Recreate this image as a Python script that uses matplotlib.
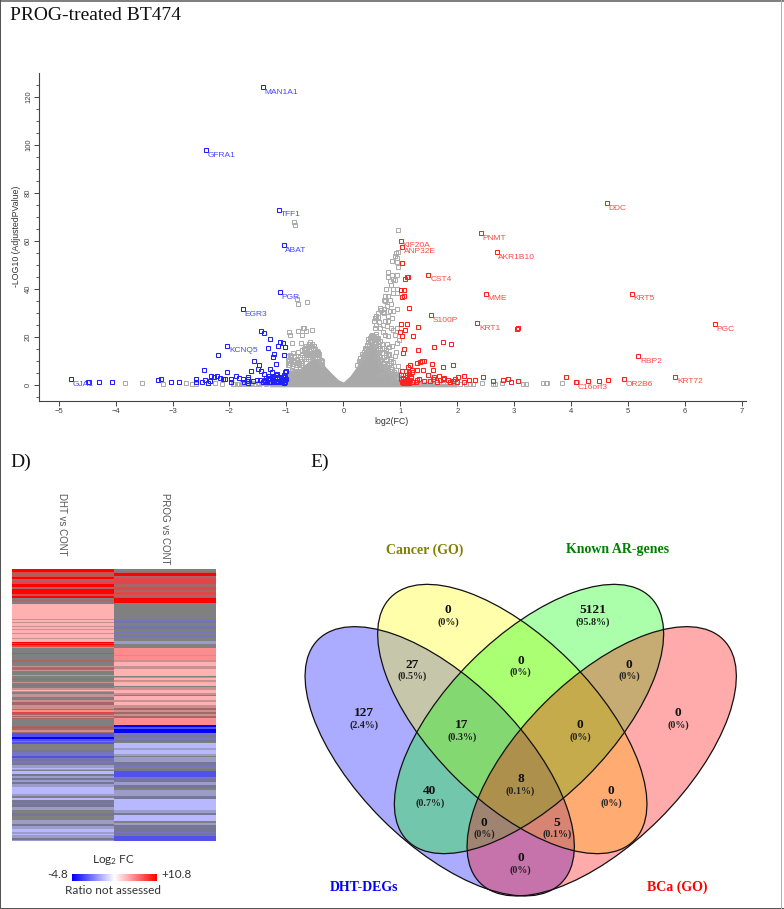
import numpy as np
import matplotlib
matplotlib.use("Agg")
import matplotlib.pyplot as plt
from matplotlib.patches import Ellipse, Rectangle
from matplotlib.colors import ListedColormap, LinearSegmentedColormap

plt.rcParams['mathtext.default'] = 'regular'

# ---- volcano data (log2FC, -log10 p)
blue_named = ["MAN1A1", "GFRA1", "TFF1", "ABAT", "PGR", "EGR3", "KCNQ5", "GJA1"]
blue_named_x = [-1.416, -2.41, -1.13, -1.05, -1.12, -1.76, -2.04, -4.78]
blue_named_y = [124.2, 97.9, 73.1, 58.4, 38.7, 31.6, 16.5, 2.5]

red_named = ["DDC", "PNMT", "AKR1B10", "KIF20A", "ANP32E", "CST4", "MME", "KRT5", "S100P",
             "KRT1", "PGC", "RBP2", "KRT72", "OR2B6", "C16orf3"]
red_named_x = [4.626, 2.42, 2.69, 1.008, 1.031, 1.494, 2.50, 5.07, 1.535, 2.35, 6.52, 5.18, 5.83, 4.92, 4.09]
red_named_y = [75.9, 63.3, 55.5, 60.2, 57.7, 46.0, 38.1, 38.1, 29.3, 25.9, 25.5, 12.0, 3.6, 2.6, 1.35]

blue_x = [-1.45, -1.40, -1.29, -1.12, -1.06, -1.15, -1.02, -1.32, -1.21, -1.05, -1.23, -2.21, -1.57, -1.49,
          -1.19, -2.45, -1.50, -1.45, -1.29, -1.26, -1.63, -2.04, -1.01, -1.02, -1.40, -1.17, -1.05, -1.89,
          -2.33, -2.22, -1.67, -2.28, -2.17, -2.12, -2.08, -1.98, -1.83, -1.77, -1.67, -1.58, -1.52, -1.46,
          -1.37, -1.29, -1.23, -1.17, -1.08, -1.02, -4.47, -4.48, -4.29, -4.07, -3.26, -3.21, -3.03, -2.89,
          -2.59, -2.59, -2.48, -2.43, -2.37, -2.34, -1.98, -1.74, -1.67, -1.70, -1.42, -1.38, -1.35, -1.33,
          -1.31, -1.28, -1.26, -1.24, -1.22, -1.20, -1.18, -1.16, -1.14, -1.12, -1.10, -1.08, -1.06, -1.04,
          -1.02, -1.01, -1.36, -1.30, -1.25, -1.19, -1.13, -1.07, -1.03, -1.15, -1.10, -1.05]
blue_y = [22.6, 21.8, 19.4, 18.0, 17.4, 16.5, 16.0, 15.6, 13.0, 12.6, 11.7, 12.6, 9.9, 8.5,
          8.9, 6.3, 6.7, 5.8, 6.7, 5.6, 5.7, 5.3, 5.8, 5.6, 4.7, 4.7, 4.4, 4.0,
          4.0, 4.0, 3.6, 3.2, 2.8, 2.5, 2.5, 2.5, 2.8, 2.5, 2.5, 1.9, 2.2, 2.0,
          2.2, 2.8, 2.2, 2.8, 2.2, 2.2, 1.5, 1.3, 1.4, 1.4, 2.2, 2.6, 1.4, 1.4,
          2.5, 1.4, 1.4, 2.2, 1.1, 1.7, 1.4, 1.4, 1.1, 1.6, 1.3, 1.8, 1.2, 2.4,
          1.5, 1.2, 3.1, 1.7, 1.2, 2.6, 1.4, 3.4, 1.7, 1.2, 2.8, 1.5, 3.6, 1.4,
          1.2, 2.6, 3.0, 3.8, 3.3, 4.2, 3.6, 2.6, 3.4, 1.2, 1.8, 1.1]

red_x = [1.03, 1.125, 1.143, 1.08, 1.008, 1.07, 1.066, 1.03, 1.154, 1.008, 1.119, 1.318, 1.09, 0.996, 1.03,
         1.225, 3.06, 3.04, 1.75, 1.886, 1.593, 1.07, 1.04, 1.318, 1.347, 1.382, 1.418, 1.289, 1.558, 1.921,
         1.757, 1.172, 1.13, 1.575, 1.289, 1.394, 1.2, 1.025, 1.095, 1.154, 1.213, 1.482, 1.008, 1.113, 1.183,
         1.68, 1.593, 1.769, 2.015, 2.12, 2.448, 3.906, 2.81, 2.893, 4.655, 2.313, 2.2, 2.624, 2.94, 3.07,
         4.3, 4.486, 2.11, 2.0, 1.025, 1.066, 1.113, 1.142, 1.172, 1.23, 1.27, 1.336, 1.418, 1.523, 1.57,
         1.64, 1.70, 1.757, 1.833, 1.874, 1.921, 1.956, 1.113, 1.09, 1.05, 1.12, 1.16, 1.02, 1.10, 1.18,
         1.04, 1.08, 1.15, 1.22, 1.30]
red_y = [50.9, 45.2, 45.0, 44.1, 39.7, 39.7, 37.3, 36.7, 32.3, 25.5, 25.5, 24.3, 23.0, 22.3, 20.6,
         20.6, 23.6, 23.3, 18.0, 17.3, 15.8, 15.0, 13.4, 14.6, 9.8, 10.1, 10.1, 9.1, 8.9, 8.4,
         7.5, 8.4, 7.6, 6.2, 6.5, 6.2, 6.4, 6.0, 5.7, 5.3, 5.4, 4.3, 4.3, 4.3, 3.6,
         4.0, 3.3, 3.0, 3.6, 4.0, 3.6, 3.6, 2.2, 2.5, 2.1, 2.1, 2.1, 1.8, 1.5, 1.8,
         1.8, 1.8, 1.4, 1.4, 1.5, 1.8, 2.2, 1.2, 2.2, 1.5, 1.5, 2.5, 1.8, 1.8, 2.5,
         1.5, 2.2, 2.6, 2.2, 1.4, 1.8, 2.5, 0.8, 1.5, 3.0, 3.2, 1.0, 2.6, 1.1, 2.9,
         0.9, 4.2, 4.6, 1.2, 2.0]

gray_x = [-3.83, -3.53, -3.16, -2.76, -2.66, -2.59, -2.25, -2.14, -1.93, -1.86, -1.78, -1.70, -1.60, -1.50, -1.40,
          -1.30, -1.20, -1.10, -0.87, -0.855, -0.79, -0.64, -0.81,
          -0.95, -0.94, -0.79, -0.71, -0.69, -0.65, -0.55, -0.73, -0.91, -0.74, -0.58, -0.52, -0.67, -0.73, -0.88,
          -0.94, -0.80, -0.65, -0.50, -0.44, -0.58, -0.50, -0.70, -0.38, -0.97, -0.92, -0.86, -0.80, -0.74, -0.89,
          -0.83, -0.77, -0.95, -0.90, -0.62, -0.53, -0.42,
          0.966, 0.926, 0.966, 0.908, 0.949, 0.861, 0.938, 0.966, 0.79, 0.95, 0.86, 0.78, 0.878, 0.82, 0.90, 0.83,
          0.75, 0.87, 0.94, 0.94, 0.87, 0.73, 0.79, 0.715, 0.82, 0.83, 0.73, 0.77, 0.95, 0.88, 0.72, 0.66, 0.60,
          0.71, 0.82, 0.57, 0.79, 0.86, 0.535, 0.62, 0.73, 0.79, 0.57, 0.70, 0.76, 0.56, 0.65, 0.83, 0.88, 0.94,
          0.645, 0.557, 0.61, 0.69, 0.47, 0.50, 0.55, 0.60, 0.73, 0.78, 0.94, 0.80, 0.75, 0.93, 0.58, 0.67, 0.78,
          0.86, 0.72, 0.64, 0.84, 0.91, 0.97, 0.90, 0.85, 0.76, 0.68, 0.70, 0.80, 0.88, 0.96, 0.62, 0.74, 0.92,
          0.98, 0.83, 0.75, 0.66, 0.60, 0.87,
          1.05, 1.15, 1.25, 1.35, 1.45, 1.55, 1.65, 1.75, 1.85, 1.95, 2.05, 2.15, 2.22, 2.28, 2.43, 2.635, 2.66,
          2.78, 3.16, 3.20, 3.51, 3.55, 3.57, 3.84, 4.09, 4.11]
gray_y = [0.8, 0.7, 0.6, 0.8, 0.4, 0.6, 0.8, 0.6, 0.4, 0.6, 0.7, 0.6, 0.7, 0.8, 0.8,
          0.8, 0.9, 0.9, 67.8, 66.8, 33.6, 34.6, 36.0,
          22.3, 20.9, 22.7, 24.0, 23.9, 22.7, 23.0, 20.9, 17.5, 17.5, 18.0, 16.5, 15.5, 14.5, 13.4,
          12.4, 13.9, 14.0, 15.0, 13.3, 11.8, 11.6, 11.6, 10.0, 10.5, 10.5, 10.0, 9.5, 8.6, 8.7,
          7.4, 6.7, 8.4, 6.0, 12.6, 12.8, 11.0,
          64.6, 54.9, 55.6, 53.8, 52.9, 51.7, 51.4, 49.4, 47.0, 46.0, 45.9, 44.9, 44.1, 43.5, 43.9, 41.7,
          40.1, 40.0, 40.0, 38.4, 38.5, 37.2, 37.0, 35.5, 35.5, 34.0, 34.9, 33.0, 31.6, 31.0, 31.7, 31.3, 30.0,
          29.9, 30.9, 28.7, 28.7, 28.1, 26.7, 26.5, 26.7, 26.7, 24.9, 25.1, 24.8, 23.6, 23.8, 23.8, 23.0, 23.6,
          32.0, 27.9, 28.3, 30.6, 19.6, 19.6, 18.9, 18.2, 20.9, 20.3, 17.7, 16.0, 14.7, 14.0, 12.0, 8.0, 7.0,
          6.0, 9.0, 10.0, 11.0, 12.0, 19.0, 21.0, 16.5, 17.0, 15.5, 22.0, 13.0, 9.5, 8.0, 13.5, 12.5, 6.5,
          4.5, 5.0, 5.5, 4.8, 3.8, 3.4,
          0.9, 0.7, 0.6, 0.5, 0.6, 0.5, 0.6, 0.5, 0.5, 0.6, 0.4, 0.3, 0.4, 0.5, 0.8, 0.3, 0.5,
          0.8, 0.5, 0.5, 0.8, 0.8, 0.8, 0.95, 1.35, 1.2]

# the crowded part of the two hills, above the solid mass
hill_x = [-0.98, -0.96, -0.93, -0.90, -0.87, -0.84, -0.81, -0.78, -0.75, -0.72, -0.69, -0.66, -0.63, -0.60,
          -0.57, -0.54, -0.51, -0.48, -0.45, -0.42, -0.40, -0.37,
          -0.97, -0.92, -0.86, -0.82, -0.77, -0.73, -0.68, -0.64, -0.61, -0.56, -0.52, -0.47, -0.43, -0.39,
          -0.70, -0.66, -0.62, -0.57, -0.53, -0.49, -0.45, -0.60, -0.55, -0.64,
          0.24, 0.27, 0.30, 0.33, 0.36, 0.39, 0.42, 0.45, 0.48, 0.51, 0.54, 0.57, 0.60, 0.63, 0.66, 0.69,
          0.72, 0.75, 0.78, 0.81, 0.84, 0.87, 0.90, 0.93, 0.96,
          0.30, 0.34, 0.38, 0.41, 0.44, 0.47, 0.50, 0.53, 0.56, 0.59, 0.62, 0.65, 0.68, 0.71, 0.74, 0.77,
          0.80, 0.83, 0.86, 0.89, 0.92, 0.95,
          0.36, 0.40, 0.43, 0.46, 0.49, 0.52, 0.55, 0.58, 0.61, 0.64, 0.67, 0.71, 0.75, 0.79, 0.83,
          0.44, 0.48, 0.51, 0.54, 0.57, 0.61, 0.65, 0.50, 0.54, 0.58,
          -1.92, -1.84, -1.76, -1.68, -1.62, -1.56, -1.48, -1.44, -1.36, -1.32, -1.26, -1.16, -1.14, -1.06, -1.03]
hill_y = [8.5, 10.0, 9.2, 8.0, 9.6, 8.4, 10.6, 9.0, 10.2, 9.4, 10.8, 11.0, 11.8, 12.4,
          13.0, 12.2, 13.4, 12.6, 12.4, 11.0, 9.8, 9.0,
          12.2, 11.6, 12.0, 10.8, 11.6, 12.6, 13.4, 12.8, 15.2, 14.8, 14.0, 14.4, 12.8, 10.6,
          15.0, 16.4, 15.8, 16.2, 15.6, 14.0, 13.6, 17.2, 17.0, 13.6,
          8.4, 10.2, 9.4, 12.8, 11.6, 14.6, 13.0, 16.6, 15.4, 18.4, 17.0, 15.2, 13.8, 12.4, 10.6, 9.2,
          8.0, 7.4, 6.4, 5.8, 5.2, 4.6, 4.2, 3.6, 3.2,
          11.4, 12.2, 15.6, 16.8, 14.8, 18.2, 19.6, 18.8, 17.6, 19.4, 16.4, 14.6, 13.2, 11.6, 10.4, 9.4,
          8.6, 7.6, 6.6, 5.6, 4.8, 4.4,
          13.6, 15.0, 17.8, 18.6, 19.8, 20.4, 19.6, 20.6, 18.2, 15.4, 17.2, 15.4, 13.4, 12.6, 10.0,
          19.2, 20.6, 21.0, 20.2, 21.4, 19.8, 18.4, 17.0, 18.0, 16.2,
          0.4, 0.6, 0.5, 0.7, 0.5, 0.6, 0.5, 0.8, 0.6, 0.7, 0.8, 0.7, 1.0, 0.8, 1.0]

# outline of the solid grey mass
mass_x = [-1.30, -1.0, -0.99, -0.90, -0.76, -0.65, -0.585, -0.44, -0.38, -0.32, -0.20, -0.09, 0.0, 0.118, 0.235,
          0.32, 0.41, 0.50, 0.60, 0.67, 0.79, 0.91, 1.0, 1.2, 1.5, 1.95, 2.0]
mass_y = [0.5, 1.5, 6.0, 6.4, 7.0, 9.2, 10.6, 11.2, 9.8, 7.8, 4.8, 2.3, 1.3, 3.9, 7.8,
          12.8, 16.0, 18.0, 14.6, 9.8, 5.8, 3.4, 2.2, 1.4, 0.9, 0.6, 0.1]
mass_bottom = -0.7

x_major = list(range(-5, 8))
y_major = list(range(0, 121, 20))

# ---- heatmap rows, top to bottom: (colour class, number of rows)
heat_classes = ["R", "M", "D", "P", "Q", "S", "g", "B", "C", "E", "n", "L", "K"]
heat_colors = ["#ff0000", "#e14646", "#a96666", "#ffb0b0", "#c89090", "#ff8c8c", "#808080",
               "#0000ff", "#5252ea", "#7676c0", "#767696", "#b8b8ff", "#9c9cc8"]

dht_rows = [("R", 3), ("M", 2), ("D", 1), ("M", 2), ("R", 2), ("D", 2), ("M", 3), ("R", 3), ("D", 2), ("R", 5),
            ("M", 2), ("R", 2), ("g", 2), ("D", 1), ("g", 3),
            ("P", 15), ("Q", 1), ("P", 2), ("Q", 1), ("P", 3), ("Q", 1), ("P", 2), ("Q", 1), ("P", 3), ("Q", 1), ("P", 4),
            ("Q", 1), ("P", 3),
            ("R", 1), ("M", 1), ("R", 1), ("M", 2), ("Q", 1), ("g", 5), ("M", 1), ("g", 6),
            ("D", 2), ("g", 4), ("Q", 1), ("g", 1), ("D", 1), ("g", 1), ("Q", 1), ("g", 4), ("Q", 1), ("g", 3), ("D", 1),
            ("g", 2), ("Q", 1), ("g", 2), ("D", 1), ("g", 2), ("Q", 2), ("P", 1), ("Q", 1), ("g", 2), ("Q", 3), ("g", 3),
            ("Q", 2), ("D", 3), ("Q", 3), ("g", 1), ("S", 2), ("M", 2), ("D", 1), ("Q", 1), ("D", 1), ("Q", 1), ("D", 1),
            ("g", 7), ("D", 1), ("M", 1), ("D", 2), ("Q", 2), ("D", 1),
            ("C", 4), ("B", 2), ("C", 2), ("E", 1), ("C", 2), ("g", 6), ("n", 2), ("E", 4),
            ("C", 2), ("E", 1), ("n", 2), ("E", 2), ("n", 2), ("K", 3), ("L", 1), ("K", 1), ("g", 1), ("L", 3), ("n", 2),
            ("K", 2), ("n", 2), ("K", 2), ("n", 2), ("K", 3), ("L", 7), ("K", 2), ("g", 2), ("L", 2), ("n", 3), ("g", 1),
            ("n", 3), ("K", 3), ("g", 3), ("n", 3), ("g", 4), ("K", 4), ("n", 2), ("K", 3), ("L", 3), ("K", 2), ("L", 1),
            ("K", 3), ("n", 2), ("K", 2)]

prog_rows = [("g", 3), ("D", 1), ("R", 3), ("D", 2), ("M", 6), ("D", 3), ("M", 3), ("D", 2), ("M", 3), ("D", 2),
             ("M", 1), ("R", 5),
             ("g", 16), ("E", 2), ("n", 2), ("g", 2), ("E", 2), ("n", 2), ("g", 3), ("E", 1), ("g", 2), ("E", 2), ("g", 4),
             ("K", 3), ("g", 4), ("S", 7), ("Q", 1), ("S", 4),
             ("Q", 2), ("P", 4), ("Q", 3), ("P", 7), ("g", 1), ("Q", 1), ("P", 2), ("Q", 2), ("P", 4), ("g", 1), ("Q", 3),
             ("P", 3), ("Q", 2), ("g", 1), ("P", 4), ("Q", 2), ("P", 3), ("Q", 2), ("D", 2), ("Q", 2), ("D", 2), ("Q", 2),
             ("D", 2), ("S", 7), ("B", 2), ("C", 2), ("B", 4), ("E", 2), ("n", 2), ("E", 3), ("n", 2), ("g", 1), ("L", 5),
             ("K", 2), ("L", 4),
             ("K", 2), ("g", 1), ("K", 5), ("n", 3), ("E", 2), ("g", 2), ("n", 2), ("C", 6), ("E", 2), ("n", 3), ("K", 3),
             ("n", 3), ("g", 2), ("K", 6), ("n", 3), ("L", 11), ("K", 3), ("n", 2), ("L", 6), ("g", 2), ("K", 2), ("n", 3),
             ("n", 4), ("E", 1), ("n", 3), ("C", 5)]

heat_columns = ["DHT vs CONT", "PROG vs CONT"]

# ---- venn
venn_sets = ["DHT-DEGs", "Cancer (GO)", "Known AR-genes", "BCa (GO)"]
venn_set_colors = ["#0000ff", "#808000", "#008000", "#ff0000"]
venn_counts = ["0", "5121", "27", "0", "0", "127", "17", "0", "0", "8", "40", "0", "0", "5", "0"]
venn_shares = ["(0%)", "(95.8%)", "(0.5%)", "(0%)", "(0%)", "(2.4%)", "(0.3%)", "(0%)", "(0%)", "(0.1%)",
               "(0.7%)", "(0%)", "(0%)", "(0.1%)", "(0%)"]
venn_text_x = [448, 592.5, 412, 520.5, 629, 364, 462, 580, 678, 520.5, 430, 611, 484, 557, 520.5]
venn_text_y = [610, 610, 664.5, 660.5, 664.5, 713, 725, 725, 713, 779.5, 791, 791, 822.5, 822.5, 858]

fig = plt.figure(figsize=(7.84, 9.09), dpi=100)

# page in pixel coordinates, for frame, panel letters and the venn
page = fig.add_axes([0, 0, 1, 1], zorder=0)
page.set_xlim(0, 784)
page.set_ylim(909, 0)
page.axis("off")

page.add_patch(Rectangle((0, 0), 784, 2, color="#808080", lw=0))
page.add_patch(Rectangle((0, 0), 1.2, 909, color="#555555", lw=0))
page.add_patch(Rectangle((0, 907.5), 784, 1.5, color="#555555", lw=0))
page.add_patch(Rectangle((781, 0), 1, 909, color="#b0b0b0", lw=0))

page.text(10, 15, "PROG-treated BT474", family="Liberation Serif", fontsize=14, va="center", color="#111111")
page.text(10, 462, "D)", family="Liberation Serif", fontsize=14, va="center", color="#111111")
page.text(310, 462, "E)", family="Liberation Serif", fontsize=14, va="center", color="#111111")

# volcano
ax = fig.add_axes([39/784, 1-401/909, 707/784, 328/909], zorder=1)
ax.patch.set_alpha(0)
ax.set_xlim(-5.345, 7.07)
ax.set_ylim(-6.6, 130)
for s in ["top", "right"]:
    ax.spines[s].set_visible(False)
for s in ["left", "bottom"]:
    ax.spines[s].set_color("#444444")
    ax.spines[s].set_linewidth(0.8)

ax.fill_between(mass_x, mass_y, mass_bottom, color="#a9a9a9", lw=0, zorder=1)
mk = dict(marker="s", ls="none", ms=3.0, mew=0.75, mfc="none")
ax.plot(gray_x + hill_x, gray_y + hill_y, mec="#acacac", zorder=2, **mk)
ax.plot(blue_x + blue_named_x, blue_y + blue_named_y, mec="#2020ff", zorder=3, **mk)
ax.plot(red_x + red_named_x, red_y + red_named_y, mec="#ff2020", zorder=3, **mk)

for name, x, y in zip(blue_named, blue_named_x, blue_named_y):
    ax.annotate(name, (x, y), xytext=(1.2, -3.8), textcoords="offset points", fontsize=6,
                family="Liberation Sans", color="#4848ff", va="center", zorder=4)
for name, x, y in zip(red_named, red_named_x, red_named_y):
    ax.annotate(name, (x, y), xytext=(1.2, -3.8), textcoords="offset points", fontsize=6,
                family="Liberation Sans", color="#ff4848", va="center", zorder=4)

ax.set_xticks(x_major)
ax.set_yticks(y_major)
ax.set_yticks(np.arange(-5, 130, 5), minor=True)
ax.tick_params(axis="both", which="major", length=3.5, width=0.7, color="#444444", labelsize=5.5,
               labelcolor="#444444", pad=1.5)
ax.tick_params(axis="y", which="minor", length=2, width=0.6, color="#444444")
for t in ax.get_xticklabels() + ax.get_yticklabels():
    t.set_family("Liberation Sans")
for t in ax.get_yticklabels():
    t.set_rotation(90)
    t.set_va("center")
page.text(17, 236, "-LOG10 (AdjustedPValue)", rotation=90, fontsize=6.3, family="Liberation Sans",
          color="#333333", ha="center", va="center")
page.text(392, 421, "log2(FC)", fontsize=6.3, family="Liberation Sans", color="#333333", ha="center", va="center")

# heatmap
hm = fig.add_axes([12/784, 1-841/909, 203/784, 272/909], zorder=1)
def expandRows(rows):
    out = []
    for code, n in rows:
        out += [heat_classes.index(code)] * n
    return out
col_a = expandRows(dht_rows)
col_b = expandRows(prog_rows)
nrow = min(len(col_a), len(col_b))
cells = np.array([col_a[:nrow], col_b[:nrow]]).T
hm.imshow(cells, cmap=ListedColormap(heat_colors), vmin=0, vmax=len(heat_colors)-1, aspect="auto",
          interpolation="nearest")
hm.axis("off")

for name, x in zip(heat_columns, [62, 165]):
    page.text(x, 493, name, rotation=-90, fontsize=7, family="Liberation Sans", color="#555555",
              ha="center", va="top")

# colour scale under the heatmap
cb = fig.add_axes([72/784, 1-881/909, 85/784, 7/909], zorder=1)
scale = LinearSegmentedColormap.from_list("fc", ["#0000ff", "#ffffff", "#ff0000"])
cb.imshow(np.linspace(0, 1, 200).reshape(1, -1), cmap=scale, aspect="auto")
cb.axis("off")
page.text(114, 860, "Log$_2$ FC", fontsize=8.5, family="Lato", color="#333333", ha="center", va="center")
page.text(68, 875, "-4.8", fontsize=8.5, family="Lato", color="#333333", ha="right", va="center")
page.text(161, 875, "+10.8", fontsize=8.5, family="Lato", color="#333333", ha="left", va="center")
page.text(113.5, 891, "Ratio not assessed", fontsize=8.5, family="Lato", color="#333333", ha="center", va="center")

# venn, drawn in this order so the overlaps mix as in the figure
ell_w, ell_h = 344, 163.4
for cx, cy, ang, col in [(439.7, 761.3, 45, "#0000ff"), (512.3, 719, 45, "#ffff00"),
                         (529, 719, -45, "#00ff00"), (601.7, 761.3, -45, "#ff0000")]:
    page.add_patch(Ellipse((cx, cy), ell_w, ell_h, angle=ang, facecolor=col, alpha=0.33, lw=0))
for cx, cy, ang in [(439.7, 761.3, 45), (512.3, 719, 45), (529, 719, -45), (601.7, 761.3, -45)]:
    page.add_patch(Ellipse((cx, cy), ell_w, ell_h, angle=ang, fill=False, edgecolor="#111111", lw=0.9))

for c, s, x, y in zip(venn_counts, venn_shares, venn_text_x, venn_text_y):
    page.text(x, y, c, family="Liberation Serif", weight="bold", fontsize=9.6, ha="center", va="center", color="#111111")
    page.text(x, y + 11.7, s, family="Liberation Serif", weight="bold", fontsize=7.2, ha="center", va="center", color="#222222")

for name, col, x, y in zip(venn_sets, venn_set_colors, [363.7, 424.3, 617.3, 677.7], [887.7, 550, 550, 887.7]):
    page.text(x, y, name, family="Liberation Serif", weight="bold", fontsize=10, color=col, ha="center", va="center")

fig.savefig("out.png", dpi=100)
